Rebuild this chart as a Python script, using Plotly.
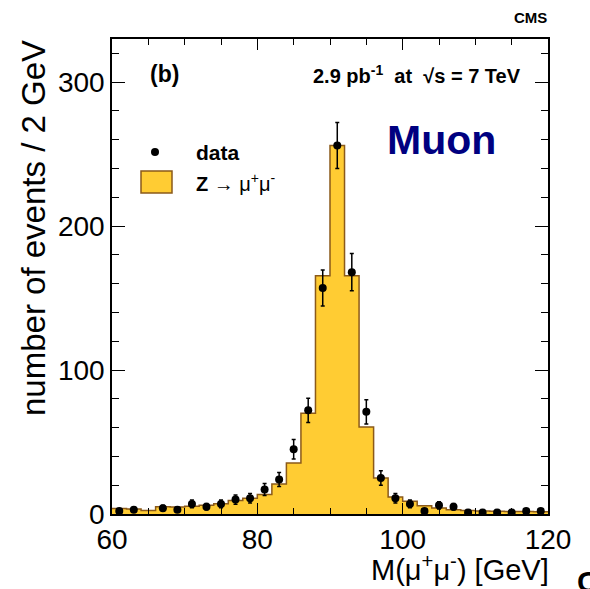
import numpy as np
import plotly.graph_objects as go

# ---- data ----
bin_edges = list(range(60, 122, 2))  # 60..120
mc_values = [3.9, 3.5, 2.5, 5.0, 4.8, 5.3, 6.0, 7.2, 9.3, 10.9,
             13.5, 20.9, 35.5, 70.0, 165.6, 256.0, 165.6, 60.5, 25.0, 11.8,
             8.8, 5.8, 4.2, 3.0, 2.4, 2.1, 1.9, 1.8, 1.7, 1.6]
data_x = [61, 63, 65, 67, 69, 71, 73, 75, 77, 79,
          81, 83, 85, 87, 89, 91, 93, 95, 97, 99,
          101, 103, 105, 107, 109, 111, 113, 115, 117, 119]
data_y = [2, 3, 0, 4, 3, 7, 5, 7, 10, 11,
          17, 24, 45, 72, 157, 256, 168, 71, 25, 11,
          7, 2, 6, 5, 1, 1, 1, 1, 2, 2]
x_ticks = [60, 80, 100, 120]
y_ticks = [0, 100, 200, 300]

FONT = "Liberation Sans, Arial, Helvetica, sans-serif"
FILL = "#FFCC33"
EDGE = "#8B5A1A"

# plot-area pixel frame
L, R, T, B = 112, 548, 39, 514
W, H = 590, 589


def px(x):
    return (x - L) / (R - L)


def py(y):
    return (B - y) / (B - T)


fig = go.Figure()

# MC histogram (step)
fig.add_trace(go.Scatter(
    x=bin_edges, y=mc_values + [mc_values[-1]],
    mode="lines", line=dict(shape="hv", color=EDGE, width=1.5),
    fill="tozeroy", fillcolor=FILL, showlegend=False, hoverinfo="skip"))

# data points
dx = [x for x, y in zip(data_x, data_y) if y > 0]
dy = [y for y in data_y if y > 0]
fig.add_trace(go.Scatter(
    x=dx, y=dy, mode="markers",
    marker=dict(color="black", size=8),
    error_y=dict(type="data", array=list(np.sqrt(dy)), color="black",
                 thickness=1.5, width=2),
    showlegend=False))

axis_common = dict(
    showline=True, linecolor="black", linewidth=1.5, mirror="allticks",
    ticks="inside", tickcolor="black", tickwidth=1.2,
    showgrid=False, zeroline=False,
    tickfont=dict(family=FONT, size=28, color="black"),
)
fig.update_xaxes(range=[60, 120], tickvals=x_ticks, ticklen=11,
                 minor=dict(dtick=5, ticklen=6, ticks="inside", tickcolor="black", tickwidth=1.2),
                 **axis_common)
fig.update_yaxes(range=[0, 330], tickvals=y_ticks, ticklen=13,
                 minor=dict(dtick=20, ticklen=7, ticks="inside", tickcolor="black", tickwidth=1.2),
                 **axis_common)

ann = []
# axis titles
ann.append(dict(text="M(μ<sup>+</sup>μ<sup>-</sup>) [GeV]", x=px(550), y=py(587),
                xref="paper", yref="paper", xanchor="right", yanchor="bottom",
                showarrow=False, borderpad=0,
                font=dict(family=FONT, size=29, color="black")))
ann.append(dict(text="number of events / 2 GeV", x=px(34), y=py(38),
                xref="paper", yref="paper", xanchor="center", yanchor="top",
                textangle=-90, showarrow=False,
                font=dict(family=FONT, size=33, color="black")))
# labels
ann.append(dict(text="<b>(b)</b>", x=px(148), y=py(74), xref="paper", yref="paper",
                xanchor="left", yanchor="middle", showarrow=False,
                font=dict(family=FONT, size=23, color="black")))
ann.append(dict(text="<b>2.9 pb<sup>-1</sup>  at  √s = 7 TeV</b>", x=px(523), y=py(74),
                xref="paper", yref="paper", xanchor="right", yanchor="middle",
                showarrow=False, font=dict(family=FONT, size=20, color="black")))
ann.append(dict(text="<b>Muon</b>", x=px(441), y=py(140), xref="paper", yref="paper",
                xanchor="center", yanchor="middle", showarrow=False,
                font=dict(family=FONT, size=41, color="#000080")))
ann.append(dict(text="<b>CMS</b>", x=px(549), y=py(18), xref="paper", yref="paper",
                xanchor="right", yanchor="middle", showarrow=False,
                font=dict(family=FONT, size=15, color="black")))
ann.append(dict(text="<b>C</b>", x=px(575), y=py(563), xref="paper", yref="paper",
                xanchor="left", yanchor="top", showarrow=False,
                font=dict(family=FONT, size=30, color="black")))
# legend
ann.append(dict(text="<b>data</b>", x=px(194), y=py(152), xref="paper", yref="paper",
                xanchor="left", yanchor="middle", showarrow=False,
                font=dict(family=FONT, size=21, color="black")))
ann.append(dict(text="<b>Z</b> → μ<sup>+</sup>μ<sup>-</sup>", x=px(194), y=py(182),
                xref="paper", yref="paper", xanchor="left", yanchor="middle",
                showarrow=False, font=dict(family=FONT, size=20, color="black")))

shapes = [
    dict(type="circle", xref="paper", yref="paper",
         x0=px(151), x1=px(159), y0=py(156), y1=py(148),
         fillcolor="black", line=dict(color="black", width=0)),
    dict(type="rect", xref="paper", yref="paper",
         x0=px(141), x1=px(172), y0=py(193), y1=py(171),
         fillcolor=FILL, line=dict(color=EDGE, width=1.5)),
]

fig.update_layout(
    width=W, height=H,
    margin=dict(l=L, r=W - R, t=T, b=H - B),
    paper_bgcolor="white", plot_bgcolor="white",
    annotations=ann, shapes=shapes, showlegend=False,
)

fig.write_html("out.html")
